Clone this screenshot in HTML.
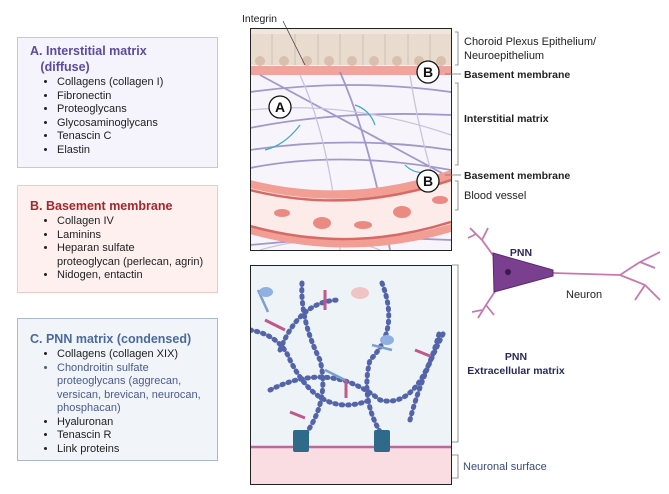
<!DOCTYPE html>
<html><head><meta charset="utf-8"><style>
body{margin:0;background:#fff;width:669px;height:494px;overflow:hidden;font-family:"Liberation Sans",sans-serif}
.box{position:absolute;left:17px;width:201px;border:1px solid;box-sizing:border-box;padding:5px 0 0 12px}
.box h3{margin:0;font-size:12.5px;line-height:16px;white-space:nowrap}
.box ul{margin:1px 0 0 0;padding-left:27px;font-size:11px;line-height:13.5px;color:#222;white-space:nowrap}
</style></head><body>
<div class="box" style="top:37px;height:131px;background:#f5f3fc;border-color:#c9c4e0">
<h3 style="color:#5b4c9c">A. Interstitial matrix<br>&nbsp;&nbsp;&nbsp;(diffuse)</h3>
<ul><li>Collagens (collagen I)</li><li>Fibronectin</li><li>Proteoglycans</li><li>Glycosaminoglycans</li><li>Tenascin C</li><li>Elastin</li></ul></div>
<div class="box" style="top:185px;height:108px;background:#fdf0ef;border-color:#f0c9c6">
<h3 style="color:#a8262a;margin-top:7px">B. Basement membrane</h3>
<ul><li>Collagen IV</li><li>Laminins</li><li>Heparan sulfate<br>proteoglycan (perlecan, agrin)</li><li>Nidogen, entactin</li></ul></div>
<div class="box" style="top:318px;height:143px;background:#f1f5fa;border-color:#a9b8cc">
<h3 style="color:#4a6a9c;margin-top:7px">C. PNN matrix (condensed)</h3>
<ul><li>Collagens (collagen XIX)</li><li style="color:#4a5a8c">Chondroitin sulfate<br>proteoglycans (aggrecan,<br>versican, brevican, neurocan,<br>phosphacan)</li><li>Hyaluronan</li><li>Tenascin R</li><li>Link proteins</li></ul></div>

<svg width="669" height="494" style="position:absolute;left:0;top:0" font-family="Liberation Sans, sans-serif">
<defs><clipPath id="c1"><rect x="250" y="28" width="201" height="222"/></clipPath>
<clipPath id="c2"><rect x="250" y="265" width="201" height="219"/></clipPath></defs>
<g clip-path="url(#c1)">
<rect x="250" y="28" width="201" height="222" fill="#f7f5fb"/>
<rect x="250" y="28" width="201" height="37" fill="#e9dccf"/>
<rect x="250" y="28" width="201" height="6" fill="#efe6dc"/>
<g stroke="#c8b8a8" stroke-width="0.8">
<line x1="272" y1="34" x2="272" y2="65"/><line x1="295" y1="34" x2="295" y2="65"/><line x1="318" y1="34" x2="318" y2="65"/><line x1="340" y1="34" x2="340" y2="65"/><line x1="363" y1="34" x2="363" y2="65"/><line x1="385" y1="34" x2="385" y2="65"/><line x1="408" y1="34" x2="408" y2="65"/><line x1="430" y1="34" x2="430" y2="65"/></g>
<g fill="#d9bfae"><circle cx="260" cy="61" r="5"/><circle cx="284" cy="61" r="5"/><circle cx="307" cy="61" r="5"/><circle cx="329" cy="61" r="5"/><circle cx="352" cy="61" r="5"/><circle cx="374" cy="61" r="5"/><circle cx="397" cy="61" r="5"/><circle cx="419" cy="61" r="5"/><circle cx="441" cy="61" r="5"/></g>
<rect x="250" y="66" width="201" height="9" fill="#f0a49d"/>
<g stroke="#8c82c0" stroke-width="1.8" fill="none" opacity=".8"><path d="M250 92 Q350 78 451 92"/><path d="M250 128 Q340 110 451 115"/><path d="M250 150 Q350 135 451 150"/><path d="M260 75 L451 178"/><path d="M250 168 Q340 150 451 170"/><path d="M340 72 Q370 140 390 250"/><path d="M250 245 Q350 235 451 240"/></g>
<g stroke="#c8c4dc" stroke-width="1.3" fill="none"><path d="M300 75 Q330 140 340 250"/><path d="M410 75 Q420 140 440 200"/><path d="M250 110 Q350 100 451 135"/><path d="M260 250 Q330 230 380 250"/></g>
<g stroke="#3aa8c8" stroke-width="1.2" fill="none"><path d="M265 150 Q285 145 300 125"/><path d="M355 105 Q370 110 375 125"/><path d="M405 165 Q415 175 430 172"/><path d="M395 240 Q405 232 415 238"/></g>
<path d="M250 180 Q350 205 451 170 L451 232 Q350 262 250 234 Z" fill="#f29e95"/>
<path d="M250 188 Q350 213 451 180 L451 224 Q350 254 250 226 Z" fill="#fcebe8"/>
<g fill="#eb8a82"><ellipse cx="282" cy="213" rx="8" ry="4"/><ellipse cx="322" cy="223" rx="9" ry="6"/><ellipse cx="363" cy="225" rx="9" ry="4"/><ellipse cx="402" cy="212" rx="9" ry="6"/><ellipse cx="440" cy="200" rx="8" ry="4"/></g>
<g stroke="#d66a66" stroke-width="2.5" fill="none"><path d="M250 190 Q350 215 451 180"/><path d="M250 226 Q350 254 451 222"/></g>
</g>
<rect x="250.5" y="28.5" width="201" height="222" fill="none" stroke="#222" stroke-width="1"/>
<line x1="283" y1="21" x2="305" y2="65" stroke="#333" stroke-width=".7"/>
<text x="242" y="22" font-size="10.5" fill="#222">Integrin</text>
<g fill="#fff" stroke="#111" stroke-width="1.3"><circle cx="428" cy="72" r="11"/><circle cx="280" cy="107" r="11"/><circle cx="428" cy="181" r="11"/><circle cx="262" cy="448" r="11"/></g>
<g font-weight="bold" font-size="14" text-anchor="middle" fill="#111"><text x="428" y="77">B</text><text x="280" y="112">A</text><text x="428" y="186">B</text><text x="262" y="453">C</text></g>
<g stroke="#777" fill="none" stroke-width=".8"><path d="M455 32 H458 V65 H455"/><path d="M455 83 H458 V165 H455"/><path d="M455 181 H458 V210 H455"/><path d="M452 265 H458 V442 H452"/><path d="M452 455 H458 V478 H452"/><line x1="445" y1="74" x2="461" y2="74"/><line x1="445" y1="175" x2="461" y2="175"/></g>
<g font-size="11" fill="#222"><text x="464" y="45">Choroid Plexus Epithelium/</text><text x="464" y="59">Neuroepithelium</text>
<text x="464" y="78" font-weight="bold" font-size="10.5">Basement membrane</text><text x="464" y="122" font-weight="bold" font-size="10.5">Interstitial matrix</text><text x="464" y="179" font-weight="bold" font-size="10.5">Basement membrane</text><text x="464" y="199">Blood vessel</text>
<text x="566" y="298">Neuron</text><text x="463" y="470" fill="#3a4a7a">Neuronal surface</text></g>
<g font-weight="bold" font-size="10.5" fill="#2a2a5a" text-anchor="middle"><text x="521" y="256">PNN</text><text x="516" y="360">PNN</text><text x="516" y="374">Extracellular matrix</text></g>
<g stroke="#c878b0" stroke-width="1.8" fill="none"><path d="M495 258 L482 240 L470 228 M482 240 L488 228 M476 234 L468 238"/><path d="M496 290 L486 305 L478 318 M486 305 L494 315 M482 310 L472 312"/><path d="M553 273 L620 275 L640 262 L660 252 M620 275 L645 285 L660 300 M640 262 L655 268 M645 285 L635 300"/></g>
<path d="M493 253 L553 270 L553 276 L494 292 Z" fill="#7a3f8e" stroke="#5a2a70"/>
<circle cx="508" cy="272" r="3" fill="#3a1a50"/>
<g clip-path="url(#c2)">
<rect x="250" y="265" width="201" height="219" fill="#eef3f8"/>
<rect x="250" y="448" width="201" height="36" fill="#f9dde3"/>
<line x1="250" y1="447" x2="451" y2="447" stroke="#b86a9a" stroke-width="2.5"/>
<g stroke="#5464aa" stroke-width="5" fill="none" stroke-dasharray="1.5 5" stroke-linecap="round">
<path d="M302 283 Q300 320 320 360 Q330 400 305 435"/><path d="M250 330 Q280 335 290 360 Q320 420 370 400"/><path d="M280 350 Q300 300 340 300"/>
<path d="M382 283 Q400 330 370 360 Q360 400 382 435"/><path d="M270 390 Q330 360 380 400 Q420 410 440 330"/><path d="M410 420 Q420 380 445 330"/></g>
<g fill="#2f6a8a"><rect x="293" y="430" width="16" height="22" rx="2"/><rect x="374" y="430" width="16" height="22" rx="2"/></g>
<g stroke="#c0588a" stroke-width="3"><line x1="325" y1="290" x2="325" y2="310"/><line x1="265" y1="320" x2="285" y2="330"/><line x1="415" y1="350" x2="430" y2="356"/><line x1="346" y1="380" x2="346" y2="398"/><line x1="290" y1="412" x2="305" y2="418"/></g>
<g stroke="#7aa0d0" stroke-width="2.5"><line x1="258" y1="290" x2="268" y2="312"/><line x1="372" y1="345" x2="392" y2="350"/><line x1="325" y1="370" x2="345" y2="380"/></g>
<g fill="#8fb0e0"><ellipse cx="266" cy="292" rx="7" ry="5"/><ellipse cx="387" cy="340" rx="7" ry="5"/></g>
<ellipse cx="360" cy="293" rx="9" ry="6" fill="#f0c4c4"/>
</g>
<rect x="250.5" y="265.5" width="201" height="219" fill="none" stroke="#222" stroke-width="1"/>
</svg>
</body></html>
